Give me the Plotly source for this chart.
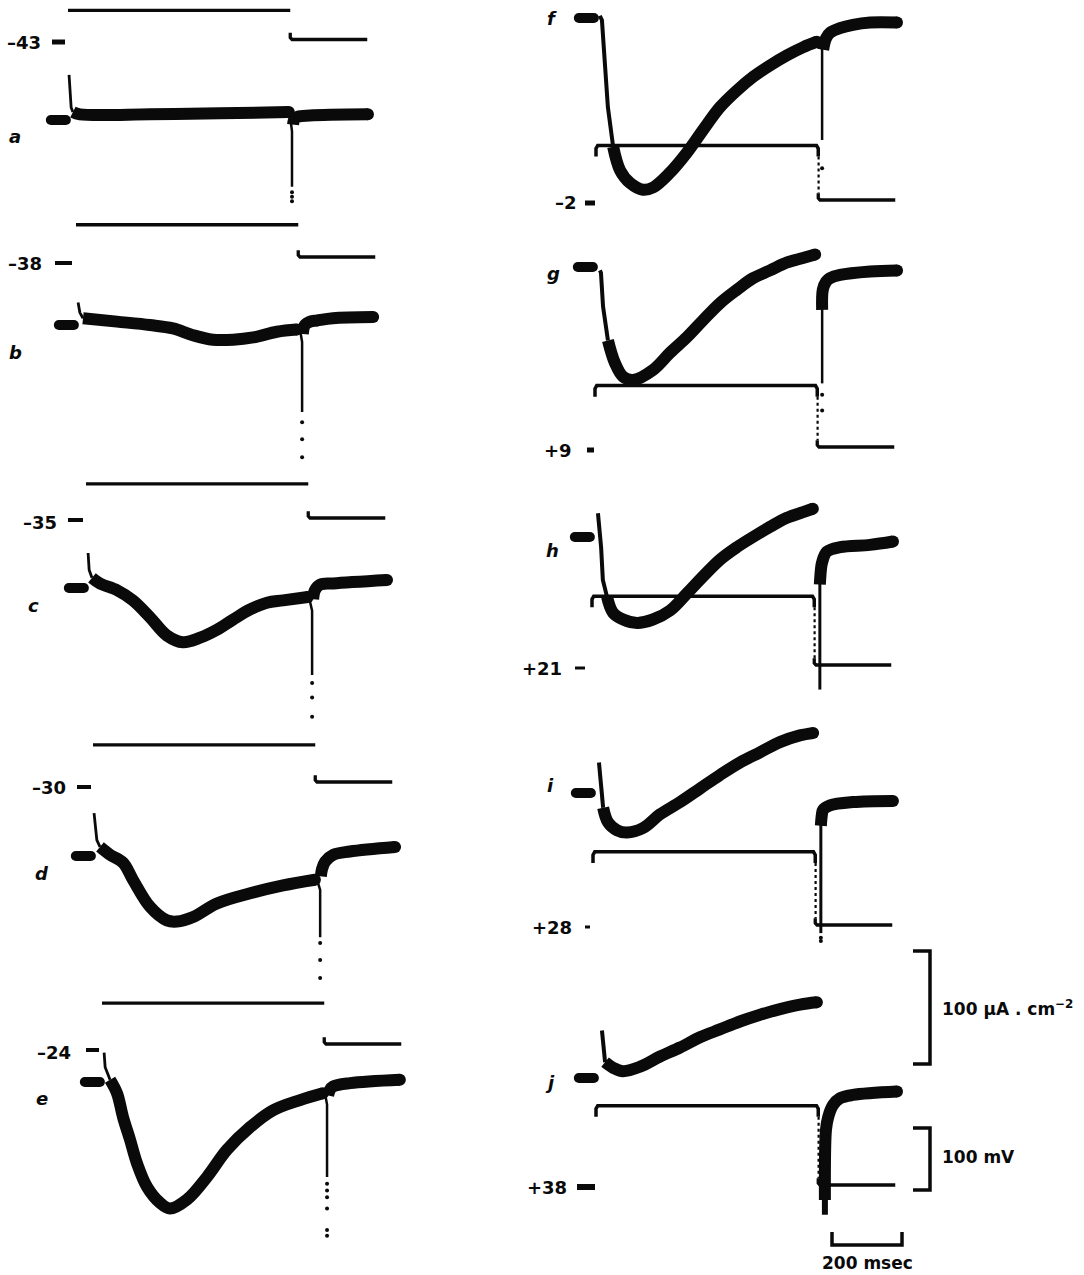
import plotly.graph_objects as go

# ---------------- data ----------------
PANELS = ["a", "b", "c", "d", "e", "f", "g", "h", "i", "j"]
STEP_LABELS = ["–43", "–38", "–35", "–30", "–24", "–2", "+9", "+21", "+28", "+38"]
STEP_MV = [-43, -38, -35, -30, -24, -2, 9, 21, 28, 38]
HOLD_MV = -90
T_PULSE = 635      # ms
T_POST = 220       # ms
V_HOOK = 11        # mV transient after the pulse
V_EDGE = 18        # mV transient at pulse edges (right column)

SCALE_I = 100      # µA/cm2
SCALE_V = 100      # mV
SCALE_T = 200      # ms

# membrane current, (ms, µA/cm2); zero = holding current mark
A_PULSE = [(3, 40), (6, 18), (9, 11), (14, 7), (34, 5), (234, 5), (434, 6), (631, 7)]
A_TAIL = [(633, 7), (640, -10), (640, -59)]
A_DOTS = [-64, -68, -72]
A_REC = [(643, -4), (647, 1), (657, 3), (691, 4), (857, 5)]

B_PULSE = [(6, 20), (11, 11), (20, 6), (117, 3), (211, 0), (277, -3), (334, -9), (391, -13),
           (449, -13), (506, -11), (574, -6), (631, -4)]
B_TAIL = [(640, -4), (646, -15), (646, -77)]
B_DOTS = [-86, -101, -117]
B_REC = [(648, -8), (654, 0), (669, 3), (689, 4), (734, 6), (849, 7)]

C_PULSE = [(6, 31), (9, 16), (17, 9), (40, 4), (89, -2), (134, -11), (183, -26), (231, -42),
           (277, -48), (326, -44), (374, -37), (420, -28), (469, -19), (517, -13), (563, -11),
           (634, -8)]
C_TAIL = [(637, -8), (646, -20), (646, -77)]
C_DOTS = [-84, -97, -114]
C_REC = [(649, -10), (654, -2), (669, 3), (706, 4), (860, 7)]

D_PULSE = [(3, 38), (11, 14), (20, 8), (49, 1), (86, -6), (114, -21), (163, -45), (211, -57),
           (240, -58), (286, -54), (354, -42), (449, -33), (543, -26), (634, -21)]
D_TAIL = [(640, -21), (649, -30), (649, -72)]
D_DOTS = [-77, -92, -108]
D_REC = [(651, -18), (654, -12), (663, -5), (686, 1), (734, 4), (863, 8)]

E_PULSE = [(6, 26), (9, 13), (23, 2), (43, -10), (60, -31), (80, -51), (100, -72), (129, -93),
           (166, -107), (194, -112), (243, -104), (300, -84), (357, -60), (423, -40),
           (489, -25), (566, -16), (631, -10)]
E_TAIL = [(637, -10), (643, -20), (643, -84)]
E_DOTS = [-90, -96, -102, -112, -131, -136]
E_REC = [(646, -12), (651, -7), (660, -4), (709, -1), (851, 2)]

F_PULSE = [(11, 2), (17, -2), (26, -43), (34, -79), (49, -114), (69, -135), (97, -146),
           (134, -152), (163, -150), (211, -137), (260, -119), (306, -99), (354, -79),
           (403, -64), (449, -52), (497, -42), (546, -33), (591, -26), (631, -21)]
F_TAIL = [(637, -21), (646, -28), (646, -108)]
F_DOTS = [-133]
F_REC = [(649, -28), (657, -18), (669, -13), (697, -9), (734, -6), (783, -4), (860, -4)]

G_PULSE = [(14, -3), (17, -5), (23, -35), (37, -65), (57, -85), (80, -97), (109, -100),
           (166, -91), (214, -76), (263, -62), (309, -47), (357, -32), (406, -20), (451, -10),
           (500, -3), (549, 4), (594, 8), (629, 11)]
G_TAIL = [(649, -20), (649, -103)]
G_DOTS = [-113, -127]
G_REC = [(649, -38), (651, -20), (660, -13), (671, -10), (700, -7), (786, -4), (863, -3)]

H_PULSE = [(17, 21), (20, 12), (26, -9), (31, -38), (43, -53), (60, -67), (89, -73),
           (129, -76), (174, -73), (223, -65), (271, -50), (317, -35), (366, -20), (414, -9),
           (460, 0), (509, 9), (557, 17), (603, 22), (631, 25)]
H_TAIL = [(651, -38), (651, -135)]
H_DOTS = []
H_REC = [(651, -42), (654, -29), (657, -23), (671, -13), (709, -9), (794, -7), (860, -4)]

I_PULSE = [(17, 27), (23, 1), (29, -13), (43, -26), (69, -33), (97, -35), (143, -31),
           (191, -19), (249, -8), (306, 4), (363, 16), (420, 27), (477, 36), (534, 45),
           (591, 51), (629, 53)]
I_TAIL = [(651, -26), (651, -124)]
I_DOTS = [-128, -131]
I_REC = [(651, -29), (654, -19), (657, -15), (677, -11), (743, -8), (857, -7)]

J_PULSE = [(17, 42), (23, 20), (26, 14), (49, 9), (77, 6), (126, 10), (183, 19), (240, 27),
           (297, 36), (354, 43), (411, 50), (469, 56), (526, 61), (583, 65), (631, 67)]
J_TAIL = [(654, -40), (654, -121)]
J_DOTS = []
J_REC = [(654, -108), (657, -46), (663, -35), (677, -24), (697, -18), (734, -15), (860, -12)]

PULSES = [A_PULSE, B_PULSE, C_PULSE, D_PULSE, E_PULSE, F_PULSE, G_PULSE, H_PULSE, I_PULSE, J_PULSE]
TAILS = [A_TAIL, B_TAIL, C_TAIL, D_TAIL, E_TAIL, F_TAIL, G_TAIL, H_TAIL, I_TAIL, J_TAIL]
DOTS = [A_DOTS, B_DOTS, C_DOTS, D_DOTS, E_DOTS, F_DOTS, G_DOTS, H_DOTS, I_DOTS, J_DOTS]
RECS = [A_REC, B_REC, C_REC, D_REC, E_REC, F_REC, G_REC, H_REC, I_REC, J_REC]

# ---------------- layout (positions / sizes / styles) ----------------
W, H = 1084, 1275
PX_PER_MS = 0.35
PX_PER_UA = 1.13
PX_PER_MV = 0.62
INK = "#0a0a0a"
FONT = "DejaVu Sans"
THICK = 12

X0 = [68, 76, 86, 93, 102, 596, 595, 592, 593, 596]            # pulse start, px
Y_I0 = [120, 325, 588, 856, 1082, 18, 267, 537, 793, 1078]      # zero current, px
Y_HOLD = [39.5, 257, 518, 782, 1044, 200, 447, 665, 925, 1185]  # holding potential, px
FAST_N = [4, 3, 3, 3, 3, 5, 4, 5, 3, 3]
TAIL_W = [2.5, 2.5, 2.5, 2.5, 2.5, 2.5, 2.5, 3, 3, 6]
LETTER_XY = [(15, 137), (15, 352), (33, 605), (42, 873), (42, 1098),
             (552, 18), (553, 273), (552, 550), (550, 785), (550, 1082)]
VLABEL_XY = [(43, 42), (44, 263), (59, 522), (68, 787), (73, 1052),
             (579, 203), (574, 450), (564, 668), (574, 927), (569, 1187)]
DASH_PX = [(52, 65, 42), (55, 72, 263), (68, 83, 520), (77, 91, 787), (86, 99, 1050),
           (585, 595, 203), (587, 594, 450), (575, 585, 668), (585, 590, 927), (577, 595, 1187)]
DASH_W = [5, 4, 4, 4, 4, 5, 5, 3, 3, 6]
BLOB_T = (-49, -6)

fig = go.Figure()
lay = dict(width=W, height=H, autosize=False, margin=dict(l=0, r=0, t=0, b=0, pad=0),
           paper_bgcolor="white", plot_bgcolor="white", showlegend=False)


def axname(prefix, n):
    return prefix if n == 1 else f"{prefix}{n}"


def ref(prefix, n):
    return prefix if n == 1 else f"{prefix}{n}"


for k in range(10):
    xn, yi, yv = k + 1, 2 * k + 1, 2 * k + 2
    x0, yi0, yh = X0[k], Y_I0[k], Y_HOLD[k]
    common = dict(visible=False, fixedrange=True, domain=[0, 1], showgrid=False, zeroline=False)
    xa = dict(common, range=[-x0 / PX_PER_MS, (W - x0) / PX_PER_MS], anchor=ref("y", yi))
    if xn > 1:
        xa["overlaying"] = "x"
    lay[axname("xaxis", xn)] = xa
    ya = dict(common, range=[(yi0 - H) / PX_PER_UA, yi0 / PX_PER_UA], anchor=ref("x", xn))
    if yi > 1:
        ya["overlaying"] = "y"
    lay[axname("yaxis", yi)] = ya
    yva = dict(common, range=[HOLD_MV + (yh - H) / PX_PER_MV, HOLD_MV + yh / PX_PER_MV],
               anchor=ref("x", xn), overlaying="y")
    lay[axname("yaxis", yv)] = yva

fig.update_layout(**lay)


def add_line(k, pts, width, axis="i", shape="linear", dash=None, smoothing=1.0):
    xn = k + 1
    yn = 2 * k + 1 if axis == "i" else 2 * k + 2
    ln = dict(color=INK, width=width, shape=shape)
    if shape == "spline":
        ln["smoothing"] = smoothing
    if dash:
        ln["dash"] = dash
    fig.add_trace(go.Scatter(x=[p[0] for p in pts], y=[p[1] for p in pts], mode="lines",
                             line=ln, xaxis=ref("x", xn), yaxis=ref("y", yn),
                             hoverinfo="skip"))


def add_caps(k, pts, size):
    # rounded ends of the thick oscilloscope traces
    fig.add_trace(go.Scatter(x=[p[0] for p in pts], y=[p[1] for p in pts], mode="markers",
                             marker=dict(color=INK, size=size, symbol="circle", line_width=0),
                             xaxis=ref("x", k + 1), yaxis=ref("y", 2 * k + 1),
                             hoverinfo="skip"))


for k in range(10):
    vs = STEP_MV[k]
    right = k >= 5
    # --- voltage trace ---
    if right:
        step = [(0, vs - V_EDGE), (0, vs - 5), (5, vs), (T_PULSE - 5, vs), (T_PULSE, vs - 5),
                (T_PULSE, vs - V_EDGE)]
        add_line(k, step, 3.5, axis="v")
        add_line(k, [(T_PULSE + 1, vs - V_EDGE), (T_PULSE + 1, HOLD_MV + V_HOOK)], 2.2,
                 axis="v", dash="dot")
    else:
        add_line(k, [(0, vs), (T_PULSE, vs)], 3.3, axis="v")
    post = [(T_PULSE, HOLD_MV + V_HOOK), (T_PULSE, HOLD_MV + 3), (T_PULSE + 5, HOLD_MV),
            (T_PULSE + T_POST, HOLD_MV)]
    add_line(k, post, 3.3, axis="v")

    # --- holding-current mark ---
    add_line(k, [(BLOB_T[0], 0), (BLOB_T[1], 0)], 10)
    add_caps(k, [(BLOB_T[0], 0), (BLOB_T[1], 0)], 10)

    # --- current trace ---
    pts = PULSES[k]
    n = FAST_N[k]
    add_line(k, pts[:n], 4 if right else 2.8)
    add_line(k, pts[n - 1:], THICK, shape="spline")
    add_line(k, TAILS[k], TAIL_W[k])
    if DOTS[k]:
        tt = TAILS[k][-1][0]
        fig.add_trace(go.Scatter(x=[tt] * len(DOTS[k]), y=DOTS[k], mode="markers",
                                 marker=dict(color=INK, size=4, symbol="circle"),
                                 xaxis=ref("x", k + 1), yaxis=ref("y", 2 * k + 1),
                                 hoverinfo="skip"))
    add_line(k, RECS[k], THICK, shape="spline")
    add_caps(k, [pts[-1], RECS[k][-1]], THICK)

# ---------------- scale bars (panel j axes) ----------------
kj = 9
tb = (930 - X0[kj]) / PX_PER_MS
tl = (913 - X0[kj]) / PX_PER_MS
i_bot = (Y_I0[kj] - 1064) / PX_PER_UA
add_line(kj, [(tl, i_bot + SCALE_I), (tb, i_bot + SCALE_I), (tb, i_bot), (tl, i_bot)], 3.5)
v_bot = HOLD_MV + (Y_HOLD[kj] - 1190) / PX_PER_MV
add_line(kj, [(tl, v_bot + SCALE_V), (tb, v_bot + SCALE_V), (tb, v_bot), (tl, v_bot)], 3.5,
         axis="v")
ts = (832 - X0[kj]) / PX_PER_MS
i_base = (Y_I0[kj] - 1245) / PX_PER_UA
i_tick = i_base + 13 / PX_PER_UA
add_line(kj, [(ts, i_tick), (ts, i_base), (ts + SCALE_T, i_base), (ts + SCALE_T, i_tick)], 3.5)

# ---------------- labels ----------------
ann = []
shapes = []


def px2paper(x, y):
    return x / W, 1 - y / H


for k in range(10):
    lx, ly = px2paper(*LETTER_XY[k])
    ann.append(dict(x=lx, y=ly, xref="paper", yref="paper", text=PANELS[k],
                    showarrow=False, xanchor="center", yanchor="middle",
                    font=dict(family=FONT, size=18, color=INK, style="italic", weight="bold")))
    vx, vy = px2paper(*VLABEL_XY[k])
    ann.append(dict(x=vx, y=vy, xref="paper", yref="paper", text=STEP_LABELS[k],
                    showarrow=False, xanchor="right", yanchor="middle",
                    font=dict(family=FONT, size=18, color=INK, weight="bold")))
    d0, d1, dy = DASH_PX[k]
    shapes.append(dict(type="line", xref="paper", yref="paper",
                       x0=d0 / W, x1=d1 / W, y0=1 - dy / H, y1=1 - dy / H,
                       line=dict(color=INK, width=DASH_W[k])))

for txt, (px, py), anchor in [
    (f"{SCALE_I} µA . cm<sup>−2</sup>", (940, 1008), "left"),
    (f"{SCALE_V} mV", (940, 1157), "left"),
    (f"{SCALE_T} msec", (867, 1263), "center"),
]:
    x, y = px2paper(px, py)
    ann.append(dict(x=x, y=y, xref="paper", yref="paper", text=txt, showarrow=False,
                    xanchor=anchor, yanchor="middle",
                    font=dict(family=FONT, size=17, color=INK, weight="bold")))

fig.update_layout(annotations=ann, shapes=shapes)

fig.write_html("out.html", config={"displayModeBar": False, "staticPlot": True},
               post_script="document.body.style.margin='0';document.body.style.overflow='hidden';")
